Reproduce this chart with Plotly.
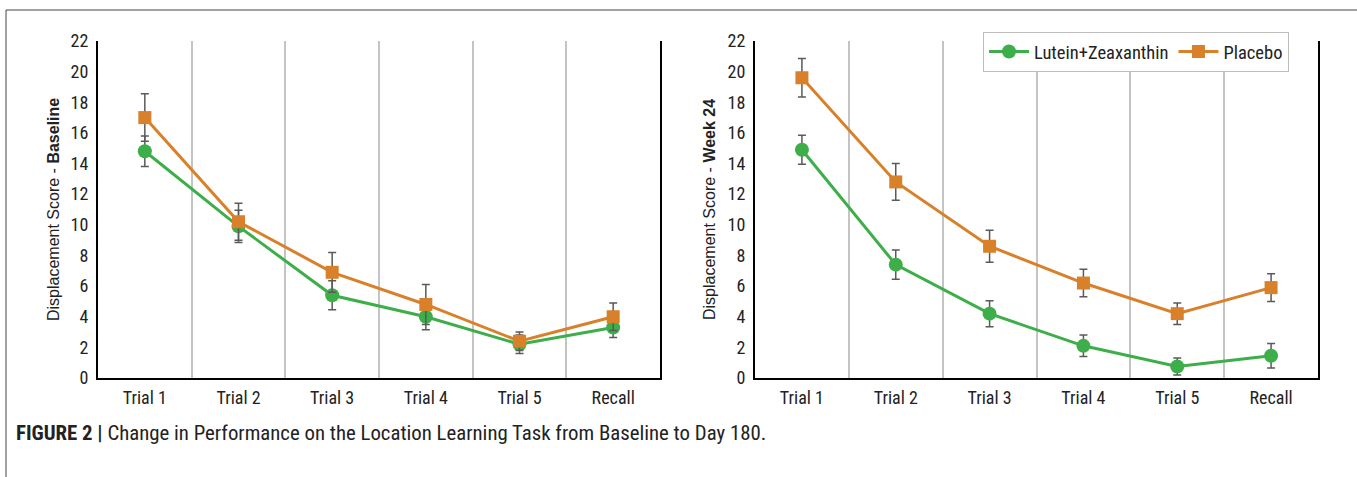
import plotly.graph_objects as go

categories = ["Trial 1", "Trial 2", "Trial 3", "Trial 4", "Trial 5", "Recall"]
y_ticks = list(range(0, 23, 2))

# Baseline
base_lz = [14.8, 9.9, 5.4, 4.0, 2.2, 3.3]
base_lz_err = [1.0, 1.05, 0.95, 0.85, 0.6, 0.65]
base_pl = [17.0, 10.2, 6.9, 4.8, 2.4, 4.0]
base_pl_err = [1.55, 1.2, 1.3, 1.3, 0.6, 0.9]

# Week 24
wk_lz = [14.9, 7.4, 4.2, 2.1, 0.75, 1.45]
wk_lz_err = [0.95, 0.95, 0.85, 0.7, 0.55, 0.8]
wk_pl = [19.6, 12.8, 8.6, 6.2, 4.2, 5.9]
wk_pl_err = [1.25, 1.2, 1.05, 0.9, 0.7, 0.9]

GREEN = "#3DAE49"
ORANGE = "#D8802A"
ERR = "#5a5a5a"
NARROW = "Liberation Sans Narrow, Arial Narrow, Roboto Condensed, Liberation Sans, sans-serif"
REG = "Liberation Sans, Arial, sans-serif"

W, H = 1357, 477
xs = list(range(len(categories)))


def px_x(p):
    return p / W


def px_y(p):
    return (H - p) / H


fig = go.Figure()


def add_series(y, err, name, color, symbol, size, xa, ya, show):
    fig.add_trace(go.Scatter(
        x=xs, y=y, name=name, mode="lines+markers",
        line=dict(color=color, width=3),
        marker=dict(symbol=symbol, size=size, color=color),
        error_y=dict(type="data", array=err, visible=True, color=ERR,
                     thickness=1.5, width=4),
        xaxis=xa, yaxis=ya, showlegend=show,
    ))


add_series(base_lz, base_lz_err, "Lutein+Zeaxanthin", GREEN, "circle", 14, "x", "y", False)
add_series(base_pl, base_pl_err, "Placebo", ORANGE, "square", 13, "x", "y", False)
add_series(wk_lz, wk_lz_err, "Lutein+Zeaxanthin", GREEN, "circle", 14, "x2", "y2", True)
add_series(wk_pl, wk_pl_err, "Placebo", ORANGE, "square", 13, "x2", "y2", True)

ydom = [px_y(378), px_y(41)]

xcommon = dict(
    range=[-0.5, 5.5], tickmode="array", tickvals=xs, ticktext=categories,
    showgrid=False, zeroline=False, showline=True, linecolor="black", linewidth=2,
    ticks="", tickfont=dict(family=NARROW, size=18, color="#222"),
    minor=dict(tick0=0.5, dtick=1, showgrid=True, gridcolor="#c4c4c4", gridwidth=2, ticks=""),
    ticklabelstandoff=2, automargin=False,
)
ycommon = dict(
    range=[0, 22], tickmode="array", tickvals=y_ticks,
    showgrid=False, zeroline=False, showline=True, mirror=True,
    linecolor="black", linewidth=2, ticks="",
    tickfont=dict(family=NARROW, size=18, color="#222"),
    ticklabelstandoff=4, automargin=False,
)

fig.update_layout(
    width=W, height=H, margin=dict(l=0, r=0, t=0, b=0, pad=0, autoexpand=False),
    paper_bgcolor="white", plot_bgcolor="white",
    xaxis=dict(domain=[px_x(98), px_x(660)], anchor="y", **xcommon),
    yaxis=dict(domain=ydom, anchor="x", **ycommon),
    xaxis2=dict(domain=[px_x(755), px_x(1318)], anchor="y2", **xcommon),
    yaxis2=dict(domain=ydom, anchor="x2", **ycommon),
    legend=dict(
        orientation="h", x=px_x(983), y=px_y(32), xanchor="left", yanchor="top",
        bgcolor="white", bordercolor="#bdbdbd", borderwidth=1,
        font=dict(family=NARROW, size=18.5, color="#222"),
        tracegroupgap=0, itemwidth=40,
    ),
    showlegend=True,
)

fig.add_annotation(
    text="Displacement Score - <b>Baseline</b>", textangle=-90,
    x=px_x(53), y=px_y(210), xref="paper", yref="paper", showarrow=False,
    xanchor="center", yanchor="middle",
    font=dict(family=REG, size=16, color="#222"),
)
fig.add_annotation(
    text="Displacement Score - <b>Week 24</b>", textangle=-90,
    x=px_x(709), y=px_y(210), xref="paper", yref="paper", showarrow=False,
    xanchor="center", yanchor="middle",
    font=dict(family=REG, size=16, color="#222"),
)
fig.add_annotation(
    text="<b>FIGURE 2 |</b> Change in Performance on the Location Learning Task from Baseline to Day 180.",
    x=px_x(14), y=px_y(433), xref="paper", yref="paper", xanchor="left", yanchor="middle",
    showarrow=False, font=dict(family=NARROW, size=20.8, color="#222"),
)

# outer frame (top and left edges)
fig.add_shape(type="line", xref="paper", yref="paper", x0=px_x(6), x1=1.0,
              y0=px_y(10), y1=px_y(10), line=dict(color="#444", width=1))
fig.add_shape(type="line", xref="paper", yref="paper", x0=px_x(6), x1=px_x(6),
              y0=0, y1=px_y(10), line=dict(color="#444", width=1))

fig.write_html(
    "out.html",
    config={"displayModeBar": False},
    post_script="document.body.style.margin='0';document.body.style.overflow='hidden';",
)
